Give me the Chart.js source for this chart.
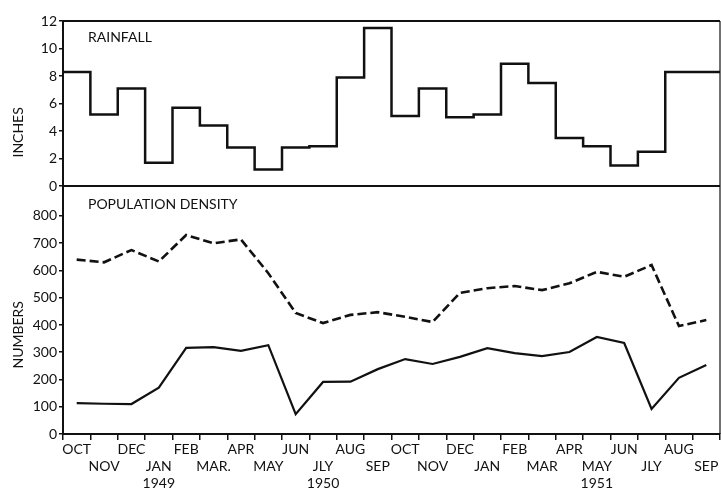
<!DOCTYPE html>
<html>
<head>
<meta charset="utf-8">
<script src="https://cdn.jsdelivr.net/npm/chart.js@4/dist/chart.umd.min.js"></script>
<style>
  html, body { margin: 0; padding: 0; background: #fff; }
  #wrap { width: 721px; height: 488px; }
</style>
</head>
<body>
<div id="wrap"><canvas id="densityChart" width="721" height="488"></canvas></div>
<script>
// Data
const months = ['OCT', 'NOV', 'DEC', 'JAN', 'FEB', 'MAR.', 'APR', 'MAY', 'JUN', 'JLY', 'AUG', 'SEP',
                'OCT', 'NOV', 'DEC', 'JAN', 'FEB', 'MAR', 'APR', 'MAY', 'JUN', 'JLY', 'AUG', 'SEP'];
const yearLabels = { 3: '1949', 9: '1950', 19: '1951' };
const rainfall = [8.3, 5.2, 7.1, 1.7, 5.7, 4.4, 2.8, 1.2, 2.8, 2.9, 7.9, 11.5,
                  5.1, 7.1, 5.0, 5.2, 8.9, 7.5, 3.5, 2.9, 1.5, 2.5, 8.3, 8.3];
const popUpper = [640, 630, 675, 633, 730, 700, 714, 590, 444, 407, 437, 447,
                  430, 411, 518, 535, 543, 528, 553, 595, 577, 620, 396, 418];
const popLower = [113, 111, 110, 170, 316, 319, 305, 326, 73, 191, 192, 238,
                  275, 257, 283, 315, 297, 286, 301, 356, 334, 92, 206, 253];
const rainTicks = [0, 2, 4, 6, 8, 10, 12];
const popTicks = [0, 100, 200, 300, 400, 500, 600, 700, 800];

const ink = '#111';
Chart.defaults.font.family = 'Lato';
Chart.defaults.color = ink;

// rainfall is a step per month: each value holds from the month's start to its end
const rainSteps = rainfall.map((v, i) => ({ x: i - 0.5, y: v }));
rainSteps.push({ x: months.length - 0.5, y: rainfall[rainfall.length - 1] });

function monthLabel(i) {
    const lines = i % 2 === 0 ? [months[i]] : ['', months[i]];
    if (yearLabels[i]) lines.push(yearLabels[i]);
    return lines;
}

// --- frame + captions ---
const framePlugin = {
    id: 'frame',
    afterDraw(chart) {
        const { ctx, chartArea: a, scales } = chart;
        const mid = scales.rain.bottom;
        ctx.save();
        ctx.strokeStyle = ink;
        ctx.lineWidth = 2;
        ctx.beginPath();
        ctx.moveTo(a.left, a.top); ctx.lineTo(a.right, a.top);
        ctx.moveTo(a.left, mid); ctx.lineTo(a.right, mid);
        ctx.stroke();
        ctx.lineWidth = 1.2;
        ctx.beginPath();
        ctx.moveTo(a.right, a.top); ctx.lineTo(a.right, a.bottom);
        ctx.stroke();

        ctx.fillStyle = ink;
        ctx.font = '14px Lato';
        ctx.textBaseline = 'middle';
        ctx.textAlign = 'left';
        ctx.fillText('RAINFALL', a.left + 25, a.top + 16);
        ctx.fillText('POPULATION DENSITY', a.left + 25, mid + 18);

        // axis titles, sitting a bit below the panel centres as in the original
        const titles = [['INCHES', scales.rain], ['NUMBERS', scales.pop]];
        ctx.textAlign = 'center';
        titles.forEach(([txt, s]) => {
            const cy = s.top + (s.bottom - s.top) * (txt === 'INCHES' ? 0.675 : 0.6);
            ctx.save();
            ctx.translate(18, cy);
            ctx.rotate(-Math.PI / 2);
            ctx.fillText(txt, 0, 0);
            ctx.restore();
        });
        ctx.restore();
    }
};

const yCommon = {
    position: 'left',
    stack: 'panels',
    border: { display: true, color: ink, width: 2 },
    grid: { drawOnChartArea: false, color: ink, lineWidth: 1.5, tickLength: 4 },
    ticks: { autoSkip: false, padding: 2, font: { size: 14 }, color: ink },
    afterFit: (s) => { s.width = 63; s.paddingTop = 0; s.paddingBottom = 0; }
};

new Chart(document.getElementById('densityChart'), {
    type: 'line',
    data: {
        labels: months,
        datasets: [
            {
                label: 'Rainfall',
                data: rainSteps,
                xAxisID: 'xs', yAxisID: 'rain',
                stepped: true,
                borderColor: ink, borderWidth: 2.5,
                pointRadius: 0, fill: false
            },
            {
                label: 'Upper',
                data: popUpper,
                xAxisID: 'x', yAxisID: 'pop',
                borderColor: ink, borderWidth: 2.6, borderDash: [9, 4],
                pointRadius: 0, tension: 0, fill: false
            },
            {
                label: 'Lower',
                data: popLower,
                xAxisID: 'x', yAxisID: 'pop',
                borderColor: ink, borderWidth: 2.2,
                pointRadius: 0, tension: 0, fill: false
            }
        ]
    },
    options: {
        responsive: false,
        animation: false,
        layout: { padding: { top: 21, right: 1, left: 0, bottom: 0 } },
        plugins: { legend: { display: false }, tooltip: { enabled: false } },
        scales: {
            x: {
                type: 'category',
                offset: true,
                border: { display: true, color: ink, width: 2 },
                grid: { offset: true, drawOnChartArea: false, color: ink, lineWidth: 1.5, tickLength: 6 },
                ticks: {
                    autoSkip: false, maxRotation: 0, minRotation: 0, padding: 1,
                    font: { size: 14, lineHeight: '17px' }, color: ink,
                    callback: (v, i) => monthLabel(i)
                },
                afterFit: (s) => { s.height = 54; s.paddingLeft = 0; s.paddingRight = 0; }
            },
            xs: { type: 'linear', display: false, min: -0.5, max: months.length - 0.5 },
            pop: Object.assign({}, yCommon, {
                type: 'linear', min: 0, max: 910, stackWeight: 248,
                afterBuildTicks: (s) => { s.ticks = popTicks.map(v => ({ value: v })); }
            }),
            rain: Object.assign({}, yCommon, {
                type: 'linear', min: 0, max: 12, stackWeight: 165,
                afterBuildTicks: (s) => { s.ticks = rainTicks.map(v => ({ value: v })); }
            })
        }
    },
    plugins: [framePlugin]
});
</script>
</body>
</html>
